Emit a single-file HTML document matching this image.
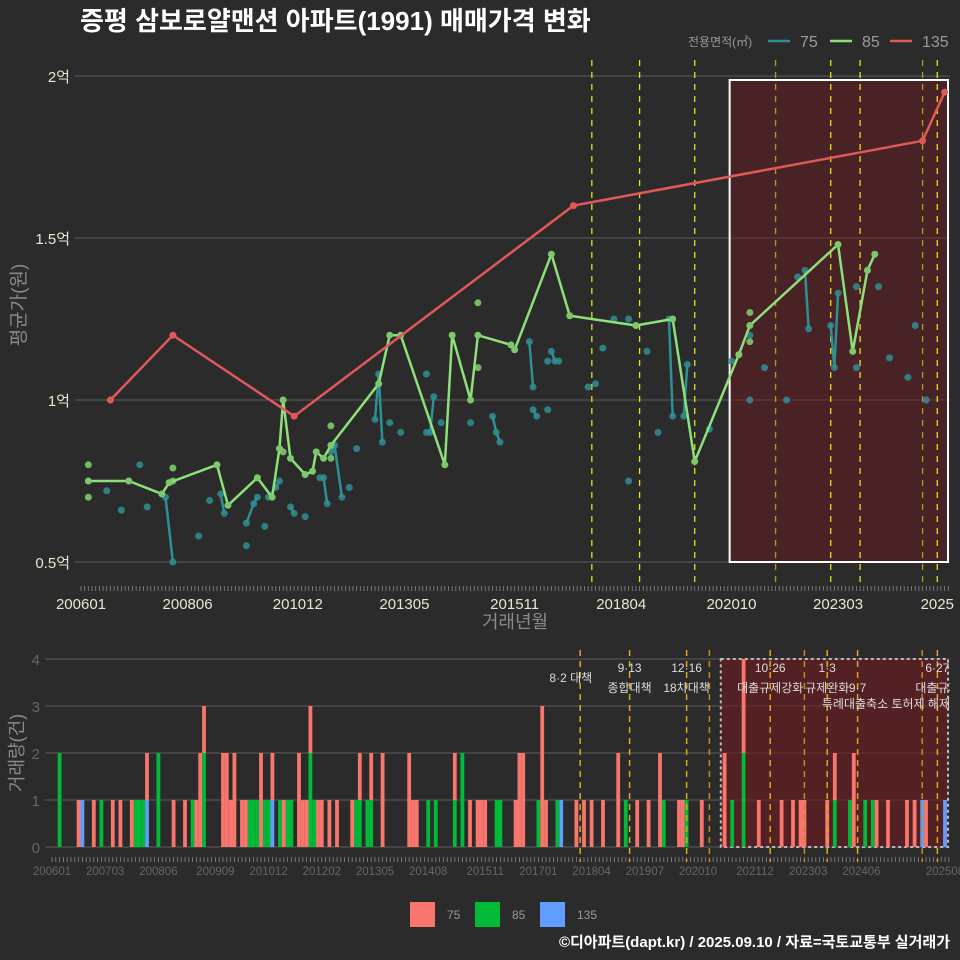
<!DOCTYPE html>
<html><head><meta charset="utf-8"><style>
html,body{margin:0;padding:0;background:#2b2b2b;}
svg{display:block;font-family:"Liberation Sans","Noto Sans CJK KR",sans-serif;}
</style></head><body>
<svg id="c" width="960" height="960" xmlns="http://www.w3.org/2000/svg">
<rect x="0" y="0" width="960" height="960" fill="#2b2b2b"/>
<defs>
<clipPath id="topClip"><rect x="48" y="60" width="902" height="530"/></clipPath>
<clipPath id="botClip"><rect x="48" y="650" width="902" height="200"/></clipPath>
</defs>
<text x="80" y="30" fill="#ffffff" font-size="26" font-weight="bold">증평 삼보로얄맨션 아파트(1991) 매매가격 변화</text>
<g id="topPanel"></g>
<g id="botPanel"></g>
<text x="950" y="947" fill="#ffffff" font-size="15" font-weight="bold" text-anchor="end">©디아파트(dapt.kr) / 2025.09.10 / 자료=국토교통부 실거래가</text>
</svg>
<script>
// ---- data (month index from 2006-01) ----
const tickLabelsTop = ["200601","200806","201012","201305","201511","201804","202010","202303","2025"];
const tickMonthsTop = [0,29,59,88,118,147,177,206,233];
const yTicksTop = [0.5,1,1.5,2];
const yTickLabelsTop = ["0.5억","1억","1.5억","2억"];
const policyMonths = [139,152,167,173,189,198,204,212,229,233];
const redMonth = [8,25,58,134,229,235];
const redValue = [1.00,1.20,0.95,1.60,1.80,1.95];
const greenMonth = [2,13,22,24,37,40,48,52,54,55,57,61,63,64,66,68,81,84,87,99,101,106,108,117,118,128,133,151,161,167,179,182,206,210,214,216];
const greenValue = [0.75,0.75,0.71,0.745,0.80,0.675,0.76,0.70,0.85,1.00,0.82,0.77,0.78,0.84,0.82,0.86,1.05,1.20,1.20,0.80,1.20,1.00,1.20,1.17,1.155,1.45,1.26,1.23,1.25,0.81,1.14,1.23,1.48,1.15,1.40,1.45];
const greenDotMonth = [2,2,25,25,55,68,68,108,108,182,182];
const greenDotValue = [0.80,0.70,0.79,0.75,0.84,0.92,0.82,1.30,1.10,1.27,1.18];
const tealMonth = [7,11,16,18,23,25,32,35,38,39,45,45,47,48,50,51,53,54,57,58,61,65,66,67,68,69,71,73,75,80,81,82,84,87,94,94,95,96,98,106,112,113,114,122,123,123,124,127,128,129,130,127,138,140,142,145,149,149,154,157,160,161,164,165,171,177,182,186,182,192,195,197,198,204,205,206,211,211,217,220,225,227,230];
const tealValue = [0.72,0.66,0.80,0.67,0.70,0.50,0.58,0.69,0.71,0.65,0.55,0.62,0.68,0.70,0.61,0.70,0.73,0.75,0.67,0.65,0.64,0.76,0.76,0.68,0.84,0.86,0.70,0.73,0.85,0.94,1.08,0.87,0.93,0.90,1.08,0.90,0.90,1.01,0.93,0.93,0.95,0.90,0.87,1.18,1.04,0.97,0.95,0.97,1.15,1.12,1.12,1.12,1.04,1.05,1.16,1.25,0.75,1.25,1.15,0.90,1.25,0.95,0.95,1.11,0.91,1.12,1.20,1.10,1.00,1.00,1.38,1.40,1.22,1.23,1.10,1.33,1.35,1.10,1.35,1.13,1.07,1.23,1.00];
const tealGroup = [1,2,3,4,5,5,6,7,8,8,9,10,10,10,11,12,12,12,13,13,14,15,15,15,16,16,16,17,18,19,19,19,20,21,22,23,23,23,24,25,26,26,26,27,27,28,28,29,30,30,30,31,32,33,34,35,36,37,38,39,40,40,41,41,42,43,44,45,46,47,48,49,49,50,50,50,51,52,53,54,55,56,57];
// volume bars per series
const vol135Month = [8,25,58,134,229,235];
const vol135Count = [1,1,1,1,1,1];
const vol85Month = [2,13,22,23,24,28,37,40,52,53,54,56,57,60,62,63,68,69,80,81,83,84,99,101,106,108,117,118,128,133,151,161,167,179,182,206,210,214,216];
const vol85Count = [2,1,1,1,1,2,1,2,1,1,1,1,1,1,1,1,2,1,1,1,1,1,1,1,1,2,1,1,1,1,1,1,1,1,2,1,1,1,1];
const vol75Month = [7,11,16,18,21,25,32,35,38,39,40,45,46,47,48,50,51,55,58,61,65,66,67,68,70,71,73,75,79,81,84,87,94,95,96,106,110,112,113,114,122,123,124,129,130,138,140,142,145,149,154,157,160,165,166,171,177,182,186,192,195,197,198,204,206,211,217,220,225,227,230];
const vol75Count = [1,1,1,1,1,1,1,1,1,2,1,2,2,1,2,1,1,2,1,1,2,1,1,1,1,1,1,1,1,1,1,2,2,1,1,1,1,1,1,1,1,2,2,3,1,1,1,1,1,2,1,1,2,1,1,1,2,2,1,1,1,1,1,1,1,2,1,1,1,1,1];
const tickLabelsBot = ["200601","200703","200806","200909","201012","201202","201305","201408","201511","201701","201804","201907","202010","202112","202303","202406","202508"];
const yTicksBot = [0,1,2,3,4];
const annoTop = ["8·2 대책","9·13","12·16","10·26","1·3","6·27"];
const annoTopMonth = [139,152,167,189,204,233];
const annoBot = ["","종합대책","18차대책","대출규제강화","규제완화","9·7","대출규제"];
const annoBotMonth = [139,152,167,189,204,212,233];

// ---- scales ----
const xT = m => 81 + m*3.675;
const yT = v => 400 - (v-1)*324;
const xB = m => 52 + m*3.8;
const yB = c => 847 - c*47;
const NS = "http://www.w3.org/2000/svg";
function mk(parent, tag, attrs){const e=document.createElementNS(NS,tag);for(const k in attrs)e.setAttribute(k,attrs[k]);parent.appendChild(e);return e;}

const topG = document.getElementById('topPanel');
const botG = document.getElementById('botPanel');

yTicksTop.forEach((v,i)=>{
  const g = mk(topG,'line',{x1:75,x2:950,y1:yT(v),y2:yT(v),stroke:'#5c5c5c','stroke-width':1});
  
  
  const t = mk(topG,'text',{x:70,y:yT(v)+6,fill:'#e8e8d0','font-size':15,'text-anchor':'end'});
  t.textContent = yTickLabelsTop[i];
  
  
});
const hb = mk(topG,'rect',{x:xT(176.5),y:80,width:948-xT(176.5),height:482,fill:'rgba(110,25,30,0.45)',stroke:'#ffffff','stroke-width':2});


policyMonths.forEach((m,i)=>{
  if(m===173||m===198) return;
  const l = mk(topG,'line',{x1:xT(m),x2:xT(m),y1:60,y2:585,stroke:(m===189||m===229)?'#a8a020':'#e8e020','stroke-width':1.3,'stroke-dasharray':'6,6'});
  
  
});
for(let m=0;m<=236;m++){
  const l=mk(topG,'line',{x1:xT(m),x2:xT(m),y1:586,y2:591,stroke:'#888','stroke-width':0.8});
  
  
  const l2=mk(botG,'line',{x1:xB(m),x2:xB(m),y1:857,y2:862,stroke:'#888','stroke-width':0.8});
  
  
}
tickLabelsTop.forEach((s,i)=>{
  const t=mk(topG,'text',{x:xT(tickMonthsTop[i]),y:609,fill:'#e8e8d0','font-size':15,'text-anchor':'middle'});
  t.textContent=s;
  
  
});
const gTop = mk(topG,'g',{'clip-path':'url(#topClip)'});


const teal='#2e8f94';
const groups={};
tealMonth.forEach((m,i)=>{(groups[tealGroup[i]]=groups[tealGroup[i]]||[]).push([xT(m),yT(tealValue[i])]);});
Object.values(groups).forEach(pts=>{
  if(pts.length>1){
    const p=mk(gTop,'polyline',{points:pts.map(p=>p.join(',')).join(' '),fill:'none',stroke:teal,'stroke-width':2.5});
    
    
  }
});
tealMonth.forEach((m,i)=>{
  const c=mk(gTop,'circle',{cx:xT(m),cy:yT(tealValue[i]),r:3.5,fill:teal,opacity:0.85});
  
  
});
const green='#8ee07a';
greenDotMonth.forEach((m,i)=>{
  const c=mk(gTop,'circle',{cx:xT(m),cy:yT(greenDotValue[i]),r:3.5,fill:'#7cc86a',opacity:0.9});
  
  
});
const gl=mk(gTop,'polyline',{points:greenMonth.map((m,i)=>xT(m)+','+yT(greenValue[i])).join(' '),fill:'none',stroke:green,'stroke-width':2.5});


greenMonth.forEach((m,i)=>{
  const c=mk(gTop,'circle',{cx:xT(m),cy:yT(greenValue[i]),r:3.5,fill:'#7cc86a'});
  
  
});
const red='#e05858';
const rl=mk(gTop,'polyline',{points:redMonth.map((m,i)=>xT(m)+','+yT(redValue[i])).join(' '),fill:'none',stroke:red,'stroke-width':2.5});


redMonth.forEach((m,i)=>{
  const c=mk(gTop,'circle',{cx:xT(m),cy:yT(redValue[i]),r:3.5,fill:red});
  
  
});
let t=mk(topG,'text',{x:515,y:628,fill:'#8a8a8a','font-size':18,'text-anchor':'middle'});t.textContent='거래년월';

t=mk(topG,'text',{x:0,y:0,fill:'#8a8a8a','font-size':19,'text-anchor':'middle',transform:'translate(25,305) rotate(-90)'});t.textContent='평균가(원)';

t=mk(topG,'text',{x:688,y:46,fill:'#9a9a9a','font-size':12});t.textContent='전용면적(㎡)';

[[teal,'75',768],[green,'85',830],[red,'135',890]].forEach(([c,s,x])=>{
  const l=mk(topG,'line',{x1:x,x2:x+22,y1:41,y2:41,stroke:c,'stroke-width':2.5});
  
  const tt=mk(topG,'text',{x:x+32,y:47,fill:'#9a9a9a','font-size':16});tt.textContent=s;
  
});

// ---- bottom ----
yTicksBot.forEach(v=>{
  const g=mk(botG,'line',{x1:45,x2:950,y1:yB(v),y2:yB(v),stroke:'#5c5c5c','stroke-width':1});
  
  const tt=mk(botG,'text',{x:40,y:yB(v)+6,fill:'#666','font-size':15,'text-anchor':'end'});tt.textContent=v;
  
});
const bb=mk(botG,'rect',{x:xB(176),y:659,width:948-xB(176),height:188,fill:'rgba(110,25,30,0.6)',stroke:'#bbbbbb','stroke-width':2,'stroke-dasharray':'3,3'});

const gBot=mk(botG,'g',{'clip-path':'url(#botClip)'});

const stackBase={};
[[vol135Month,vol135Count,'#619cff','bar-135'],[vol85Month,vol85Count,'#00ba38','bar-85'],[vol75Month,vol75Count,'#f8766d','bar-75']].forEach(([ms,cs,col,nm])=>{
  ms.forEach((m,i)=>{
    const base=stackBase[m]||0;
    const c=cs[i];
    const r=mk(gBot,'rect',{x:xB(m)-1.9,y:yB(base+c),width:3.8,height:c*47,fill:col});
    
    
    stackBase[m]=base+c;
  });
});
policyMonths.forEach(m=>{
  const l=mk(botG,'line',{x1:xB(m),x2:xB(m),y1:650,y2:862,stroke:(m===173||m===198||m===229)?'#c88a20':'#e0a820','stroke-width':1.5,'stroke-dasharray':'6,5'});
  
});
const gAnno=mk(botG,'g',{'clip-path':'url(#botClip)'});

annoTop.forEach((s,i)=>{
  const m=annoTopMonth[i];
  const tt=mk(gAnno,'text',{x:i===0?xB(m)+12:xB(m),y:i===0?682:672,fill:'#dddddd','font-size':12,'text-anchor':i===0?'end':'middle'});tt.textContent=s;
  
});
annoBot.forEach((s,i)=>{
  if(!s) return;
  const m=annoBotMonth[i];
  const tt=mk(gAnno,'text',{x:xB(m),y:692,fill:'#dddddd','font-size':12,'text-anchor':'middle'});tt.textContent=s;
  
});
t=mk(gAnno,'text',{x:950,y:708,fill:'#dddddd','font-size':12,'text-anchor':'end'});t.textContent='특례대출축소 토허제 해제';

tickLabelsBot.forEach((s,i)=>{
  const m=i===16?235:Math.round(i*14.2);
  const tt=mk(botG,'text',{x:xB(m),y:875,fill:'#666','font-size':11.5,'text-anchor':'middle'});tt.textContent=s;
  
});
t=mk(botG,'text',{x:0,y:0,fill:'#8a8a8a','font-size':18,'text-anchor':'middle',transform:'translate(23,753) rotate(-90)'});t.textContent='거래량(건)';

[['#f8766d','75',410],['#00ba38','85',475],['#619cff','135',540]].forEach(([c,s,x])=>{
  const r=mk(botG,'rect',{x:x,y:902,width:25,height:25,fill:c});
  
  const tt=mk(botG,'text',{x:x+37,y:919,fill:'#9a9a9a','font-size':12});tt.textContent=s;
  
});
</script>
</body></html>
